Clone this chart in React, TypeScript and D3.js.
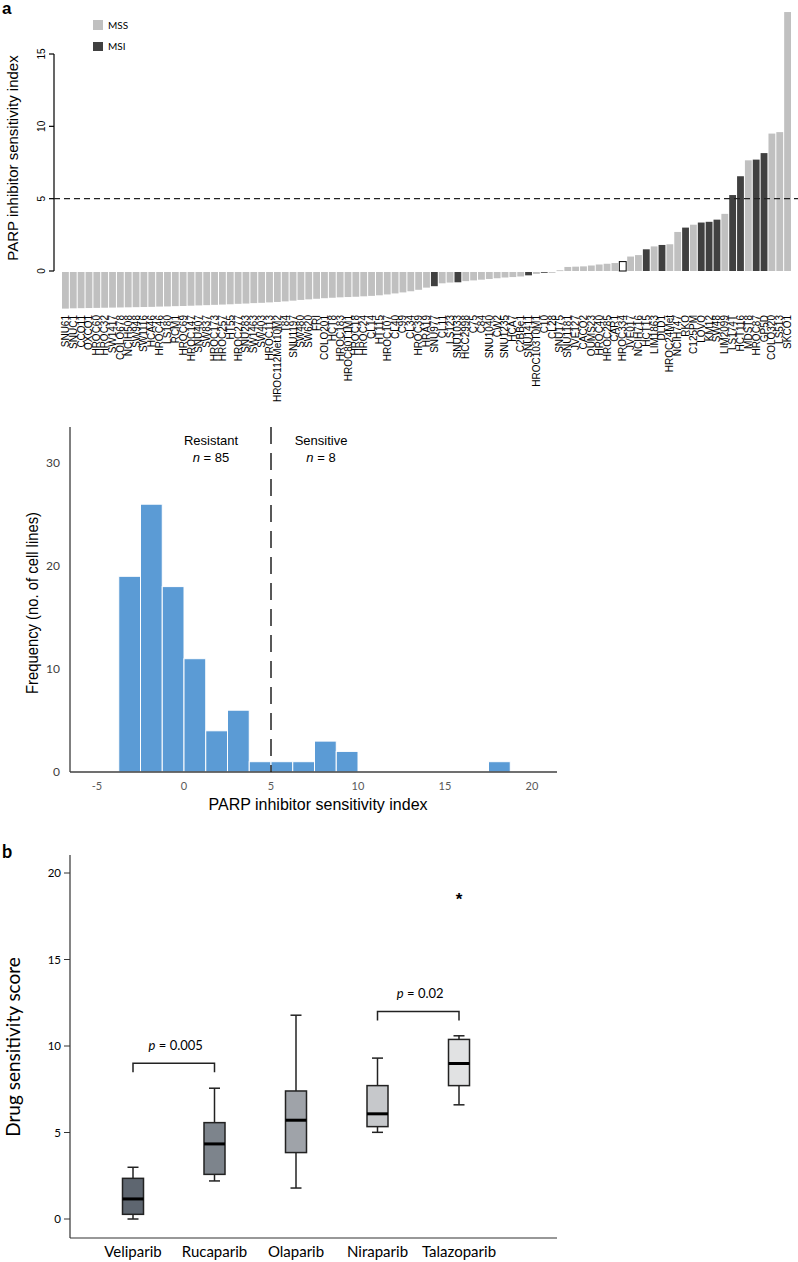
import React from 'react';
import * as d3 from 'd3';

// ---------- Panel a (top): waterfall of PARP inhibitor sensitivity index ----------
const cellLines = [
  'SNU61','SNUC1','CCO11','OXCO1','HROC60','HROC32','SW1417','COLO678','NCIH508','SW948',
  'SW1116','HCA46','HROC46','LS180','RCM1','HROC69','HROC147','SNU407','SW837','HROC173',
  'HROC257','HT55','HROC277','SNU283','SW1463','SW403','HROC113','HROC112Met10M2','T84','SNU1197',
  'SW480','SW620','FRI','COLO201','HCT8','HROC183','HROC80T1M1','HROC18','HROC24','CL14',
  'HT115','HROC107','CL40','C99','CL34','HROC39','HRA19','SNU977','CL11','LS123',
  'SNU1033','HCC2998','C75','C84','SNU1040','CW2','SNU1235','HCA7','C2BBe1','SNU1411',
  'HROC103T0M1','C10','CL28',
  'SNU175','SNU1181','JVE127','CACO2','OUMS23','HROC40','HROC285','CAR1','HROC334','JVE017',
  'NCIH716','HCT15','LIM1863','DLD1','HROC24Met','NCIH747','RKO','C125PM','LOVO','KM12',
  'SW48','LIM2099','LS174T','HCT116','MDST8','HROC87','GP5D','COLO320','LS513','SKCO1'
];
const sensitivityIndex = [
  -2.6,-2.58,-2.57,-2.56,-2.55,-2.54,-2.53,-2.52,-2.51,-2.5,
  -2.49,-2.48,-2.46,-2.45,-2.43,-2.42,-2.4,-2.38,-2.36,-2.34,
  -2.32,-2.3,-2.27,-2.25,-2.22,-2.2,-2.17,-2.14,-2.1,-2.05,
  -2.0,-1.96,-1.92,-1.88,-1.85,-1.82,-1.8,-1.78,-1.75,-1.72,
  -1.68,-1.62,-1.55,-1.48,-1.4,-1.3,-1.15,-1.05,-0.85,-0.8,
  -0.78,-0.7,-0.65,-0.6,-0.55,-0.5,-0.45,-0.42,-0.38,-0.3,
  -0.2,-0.12,-0.05,
  0.05,0.28,0.3,0.32,0.38,0.45,0.5,0.55,0.65,1.0,
  1.1,1.5,1.7,1.8,1.85,2.7,3.0,3.2,3.35,3.4,
  3.55,3.95,5.25,6.55,7.65,7.7,8.15,9.5,9.6,17.9
];
const msiLines = ['SNU977','SNU1033','SNU1411','C10','HCT15','DLD1','RKO','LOVO','KM12','SW48','LS174T','HCT116','HROC87','GP5D'];
const unclassifiedLines = ['HROC334'];
const topTicks = [0, 5, 10, 15];
const threshold = 5;

// ---------- Panel a (bottom): histogram ----------
const binStart = -3.75;
const binWidth = 1.25;
const binCounts = [19, 26, 18, 11, 4, 6, 1, 1, 1, 3, 2, 0, 0, 0, 0, 0, 0, 1, 0];
const histXTicks = [-5, 0, 5, 10, 15, 20];
const histYTicks = [0, 10, 20, 30];

// ---------- Panel b: box plots ----------
const drugs = ['Veliparib', 'Rucaparib', 'Olaparib', 'Niraparib', 'Talazoparib'];
const whiskerLow = [0.0, 2.2, 1.79, 5.01, 6.6];
const quartile1 = [0.27, 2.58, 3.84, 5.34, 7.71];
const medians = [1.16, 4.34, 5.71, 6.08, 8.99];
const quartile3 = [2.35, 5.57, 7.4, 7.71, 10.38];
const whiskerHigh = [2.99, 7.56, 11.78, 9.3, 10.59];
const boxFills = ['#5e6670', '#7d848c', '#9fa3a9', '#c6c8cb', '#e1e2e3'];
const outliers = [{ drug: 'Talazoparib', value: 18.75 }];
const boxYTicks = [0, 5, 10, 15, 20];
const comparisons = [
  { a: 'Veliparib', b: 'Rucaparib', y: 9.0, p: '0.005' },
  { a: 'Niraparib', b: 'Talazoparib', y: 12.0, p: '0.02' },
];

const ARIAL = 'Liberation Sans, Arial, sans-serif';
const MYRIAD = 'Lato, Open Sans, sans-serif';

export default function App() {
  // top chart scales
  const xBand = d3.scaleBand<string>().domain(cellLines).range([62, 791]).paddingInner(0.13);
  const yTop = d3.scaleLinear().domain([0, 15]).range([271, 54]);
  const bw = xBand.bandwidth();
  const colorOf = (name: string) =>
    unclassifiedLines.includes(name) ? '#ffffff' : msiLines.includes(name) ? '#404040' : '#c0c0c0';

  // histogram scales
  const xH = d3.scaleLinear().domain([-5, 20]).range([97, 532]);
  const yH = d3.scaleLinear().domain([0, 30]).range([772, 463]);

  // box scales
  const xB = d3.scalePoint<string>().domain(drugs).range([133, 459]);
  const yB = d3.scaleLinear().domain([0, 20]).range([1219, 873]);
  const boxW = 21;
  const capW = 11;

  return (
    <svg width={798} height={1262} style={{ position: 'absolute', left: 0, top: 0, background: '#fff' }}
      xmlns="http://www.w3.org/2000/svg">
      <rect x={0} y={0} width={798} height={1262} fill="#fff" />
      {/* ===== panel a top ===== */}
      <text x={2} y={14} fontFamily={ARIAL} fontWeight="bold" fontSize={17}>a</text>
      {/* legend */}
      <rect x={93} y={20} width={10} height={10} fill="#c0c0c0" />
      <text x={108} y={29} fontFamily={MYRIAD} fontSize={10}>MSS</text>
      <rect x={93} y={42} width={10} height={9} fill="#404040" />
      <text x={108} y={50} fontFamily={MYRIAD} fontSize={10}>MSI</text>

      {/* y axis */}
      <line x1={54} x2={54} y1={yTop(15)} y2={yTop(0)} stroke="#000" strokeWidth={1.2} />
      {topTicks.map((t) => (
        <g key={t}>
          <line x1={49} x2={54} y1={yTop(t)} y2={yTop(t)} stroke="#000" strokeWidth={1.2} />
          <text transform={`translate(${45},${yTop(t)}) rotate(-90)`} textAnchor="middle"
            fontFamily={ARIAL} fontSize={10}>{t}</text>
        </g>
      ))}
      <text transform={`translate(${18},${158}) rotate(-90)`} textAnchor="middle"
        fontFamily={ARIAL} fontSize={15}>PARP inhibitor sensitivity index</text>

      {/* bars */}
      {cellLines.map((name, i) => {
        const v = sensitivityIndex[i];
        const x = xBand(name)!;
        const y0 = yTop(0);
        const y1 = yTop(v);
        const top = v >= 0 ? y1 : y0 + 1;
        const h = Math.max(Math.abs(y1 - y0) - (v >= 0 ? 0 : 1), 0.8);
        const unc = unclassifiedLines.includes(name);
        return (
          <rect key={name} x={x} y={top} width={bw} height={h} fill={colorOf(name)}
            stroke={unc ? '#000' : 'none'} strokeWidth={unc ? 1 : 0} />
        );
      })}
      {/* threshold line */}
      <line x1={54} x2={798} y1={yTop(threshold)} y2={yTop(threshold)} stroke="#222"
        strokeWidth={1.2} strokeDasharray="6,4" />
      {/* x labels */}
      {cellLines.map((name) => (
        <text key={name} transform={`translate(${xBand(name)! + bw / 2 + 3.5},${315}) rotate(-90)`}
          textAnchor="end" fontFamily={ARIAL} fontSize={10}>{name}</text>
      ))}

      {/* ===== panel a histogram ===== */}
      {binCounts.map((c, i) => {
        if (c === 0) return null;
        const x0 = xH(binStart + i * binWidth);
        const x1 = xH(binStart + (i + 1) * binWidth);
        return (
          <rect key={i} x={x0} y={yH(c)} width={x1 - x0} height={yH(0) - yH(c)}
            fill="#5b9bd5" stroke="#fff" strokeWidth={1} />
        );
      })}
      <line x1={70} x2={70} y1={427} y2={yH(0)} stroke="#000" strokeWidth={1} />
      <line x1={70} x2={557} y1={yH(0)} y2={yH(0)} stroke="#404040" strokeWidth={1.5} />
      {histYTicks.map((t) => (
        <text key={t} x={60} y={yH(t) + 4} textAnchor="end" fontFamily={MYRIAD} fontSize={12}
          fill="#404040">{t}</text>
      ))}
      {histXTicks.map((t) => (
        <text key={t} x={xH(t)} y={790} textAnchor="middle" fontFamily={MYRIAD} fontSize={11}
          fill="#595959">{t}</text>
      ))}
      <line x1={xH(threshold)} x2={xH(threshold)} y1={427} y2={yH(0)} stroke="#222"
        strokeWidth={1.5} strokeDasharray="17,9" />
      <text x={xH(threshold) - 60} y={445} textAnchor="middle" fontFamily={ARIAL} fontSize={13}>Resistant</text>
      <text x={xH(threshold) - 60} y={462} textAnchor="middle" fontFamily={ARIAL} fontSize={13}>
        <tspan fontStyle="italic">n</tspan> = 85</text>
      <text x={xH(threshold) + 50} y={445} textAnchor="middle" fontFamily={ARIAL} fontSize={13}>Sensitive</text>
      <text x={xH(threshold) + 50} y={462} textAnchor="middle" fontFamily={ARIAL} fontSize={13}>
        <tspan fontStyle="italic">n</tspan> = 8</text>
      <text transform={`translate(${38},${603}) rotate(-90)`} textAnchor="middle" fontFamily={ARIAL}
        fontSize={16} textLength={182} lengthAdjust="spacingAndGlyphs">Frequency (no. of cell lines)</text>
      <text x={318} y={810} textAnchor="middle" fontFamily={ARIAL} fontSize={16}>PARP inhibitor sensitivity index</text>

      {/* ===== panel b ===== */}
      <text x={2} y={858} fontFamily={MYRIAD} fontWeight="bold" fontSize={18}>b</text>
      <line x1={70} x2={70} y1={855} y2={1238} stroke="#333" strokeWidth={1.2} />
      <line x1={70} x2={557} y1={1238} y2={1238} stroke="#333" strokeWidth={1.2} />
      {boxYTicks.map((t) => (
        <g key={t}>
          <line x1={64} x2={70} y1={yB(t)} y2={yB(t)} stroke="#333" strokeWidth={1} />
          <text x={61} y={yB(t) + 4} textAnchor="end" fontFamily={MYRIAD} fontSize={11.5}>{t}</text>
        </g>
      ))}
      <text transform={`translate(${20},${1047}) rotate(-90)`} textAnchor="middle" fontFamily={MYRIAD}
        fontSize={19}>Drug sensitivity score</text>
      {drugs.map((d, i) => {
        const cx = xB(d)!;
        return (
          <g key={d}>
            <line x1={cx} x2={cx} y1={yB(quartile3[i])} y2={yB(whiskerHigh[i])} stroke="#222" strokeWidth={1.5} />
            <line x1={cx} x2={cx} y1={yB(quartile1[i])} y2={yB(whiskerLow[i])} stroke="#222" strokeWidth={1.5} />
            <line x1={cx - capW / 2} x2={cx + capW / 2} y1={yB(whiskerHigh[i])} y2={yB(whiskerHigh[i])} stroke="#222" strokeWidth={1.5} />
            <line x1={cx - capW / 2} x2={cx + capW / 2} y1={yB(whiskerLow[i])} y2={yB(whiskerLow[i])} stroke="#222" strokeWidth={1.5} />
            <rect x={cx - boxW / 2} y={yB(quartile3[i])} width={boxW} height={yB(quartile1[i]) - yB(quartile3[i])}
              fill={boxFills[i]} stroke="#222" strokeWidth={1.5} />
            <line x1={cx - boxW / 2} x2={cx + boxW / 2} y1={yB(medians[i])} y2={yB(medians[i])} stroke="#000" strokeWidth={3} />
            <text x={cx} y={1257} textAnchor="middle" fontFamily={MYRIAD} fontSize={15}>{d}</text>
          </g>
        );
      })}
      {outliers.map((o) => (
        <text key={o.drug} x={xB(o.drug)!} y={yB(o.value) + 10} textAnchor="middle" fontFamily={ARIAL}
          fontWeight="bold" fontSize={17}>*</text>
      ))}
      {comparisons.map((c) => {
        const xa = xB(c.a)!;
        const xb = xB(c.b)!;
        const y = yB(c.y);
        return (
          <g key={c.a}>
            <path d={`M${xa},${y + 9}V${y}H${xb}V${y + 9}`} fill="none" stroke="#222" strokeWidth={1.5} />
            <text x={(xa + xb) / 2 + 2} y={y - 13} textAnchor="middle" fontFamily={MYRIAD} fontSize={13}>
              <tspan fontStyle="italic">p</tspan> = {c.p}</text>
          </g>
        );
      })}
    </svg>
  );
}
